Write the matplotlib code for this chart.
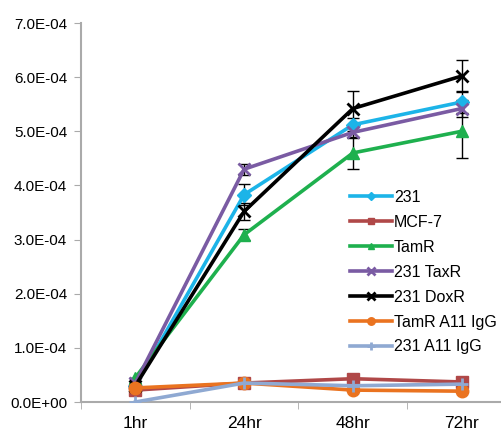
import numpy as np
import matplotlib.pyplot as plt
from matplotlib.ticker import FuncFormatter

plt.rcParams['font.family'] = ['Liberation Sans', 'DejaVu Sans']

# time points
times = ["1hr", "24hr", "48hr", "72hr"]

# series values
v_231 = [0.30e-4, 3.83e-4, 5.12e-4, 5.54e-4]
v_mcf7 = [0.22e-4, 0.35e-4, 0.43e-4, 0.37e-4]
v_tamr = [0.45e-4, 3.09e-4, 4.60e-4, 5.00e-4]
v_taxr = [0.35e-4, 4.30e-4, 4.98e-4, 5.42e-4]
v_doxr = [0.30e-4, 3.52e-4, 5.42e-4, 6.02e-4]
v_tamr_igg = [0.26e-4, 0.35e-4, 0.22e-4, 0.20e-4]
v_231_igg = [0.0, 0.35e-4, 0.30e-4, 0.33e-4]

# error bars
e_231 = [0.0, 0.20e-4, 0.12e-4, 0.20e-4]
e_tamr = [0.0, 0.10e-4, 0.30e-4, 0.50e-4]
e_taxr = [0.0, 0.10e-4, 0.10e-4, 0.15e-4]
e_doxr = [0.0, 0.15e-4, 0.33e-4, 0.30e-4]

series = [
    ("231", v_231, e_231, "#1CB4E8", "D", 7),
    ("MCF-7", v_mcf7, None, "#B04848", "s", 8),
    ("TamR", v_tamr, e_tamr, "#1EB04E", "^", 8),
    ("231 TaxR", v_taxr, e_taxr, "#7A5BA3", "x", 9),
    ("231 DoxR", v_doxr, e_doxr, "#000000", "x", 9),
    ("TamR A11 IgG", v_tamr_igg, None, "#EA7320", "o", 9),
    ("231 A11 IgG", v_231_igg, None, "#8FA9D2", "+", 9),
]

fig = plt.figure(figsize=(5.02, 4.32), dpi=100)
ax = fig.add_axes([81 / 502, 30 / 432, 435 / 502, 379 / 432])

x = np.arange(len(times))
for name, vals, errs, col, mk, ms in series:
    if errs is not None:
        ax.errorbar(x, vals, yerr=errs, fmt="none", ecolor="black",
                    elinewidth=1, capsize=4, capthick=1, zorder=2)
    ax.plot(x, vals, color=col, lw=2.6, marker=mk, ms=ms,
            mew=2 if mk in ("x", "+") else 1, label=name, zorder=3)

ax.set_xlim(-0.5, 3.5)
ax.set_ylim(0, 7e-4)
ax.set_yticks(np.arange(0, 7.01e-4, 1e-4))
ax.yaxis.set_major_formatter(FuncFormatter(lambda v, p: f"{v:.1E}"))
ax.set_xticks(x)
ax.set_xticklabels(times)
ax.set_xticks(np.arange(-0.5, 3.6, 1), minor=True)
ax.tick_params(axis="x", which="major", length=0, pad=10, labelsize=12.5)
ax.tick_params(axis="x", which="minor", length=5, color="#AAAAAA")
ax.tick_params(axis="y", length=5, color="#AAAAAA", labelsize=11, pad=5)

for s in ["top", "right"]:
    ax.spines[s].set_visible(False)
for s in ["left", "bottom"]:
    ax.spines[s].set_color("#AAAAAA")
    ax.spines[s].set_linewidth(1.5)
ax.spines["bottom"].set_zorder(1)

ax.legend(loc="upper left", bbox_to_anchor=(350 / 502, 1 - 190 / 432),
          bbox_transform=fig.transFigure, frameon=False, fontsize=11.5,
          handlelength=2.6, handletextpad=0.15, labelspacing=0.62,
          borderpad=0, borderaxespad=0, markerscale=0.6)

fig.savefig("out.png", dpi=100)
